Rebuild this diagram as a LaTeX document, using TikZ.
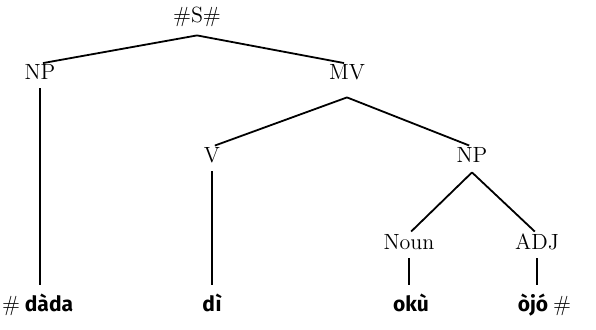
\documentclass[tikz,border=0pt]{standalone}
\usepackage{fontspec}
\setsansfont{Fira Sans}
\usepackage{tikz}

\begin{document}
\begin{tikzpicture}[x=0.5pt,y=-0.5pt,
		cat/.style={inner sep=0pt,anchor=base,text height=7.5pt,text depth=0pt,font=\fontsize{11}{13}\selectfont},
		word/.style={inner sep=0pt,anchor=base,text height=7.5pt,text depth=0pt,font=\sffamily\bfseries\fontsize{10.5}{12}\selectfont},
		branch/.style={line width=0.9pt,shorten >=1.5pt},
		stem/.style={line width=0.9pt,shorten <=4.5pt,shorten >=5.5pt}]
		\useasboundingbox (0,0) rectangle (596,329);
		% categories
		\node[cat] (S) at (197,22) {\#S\#};
		\node[cat] (NPa) at (40,79) {NP};
		\node[cat] (MV) at (347,79) {MV};
		\node[cat] (V) at (212,162) {V};
		\node[cat] (NPb) at (472,162) {NP};
		\node[cat] (Noun) at (409,249) {Noun};
		\node[cat] (ADJ) at (537,249) {ADJ};
		% words
		\node[word] (dada) at (49,311) {dàda};
		\node[cat,anchor=base east] (hashl) at ([xshift=-2pt]dada.base west) {\#};
		\node[word] (di) at (212,311) {dì};
		\node[word] (oku) at (411,311) {okù};
		\node[word] (ojo) at (533,311) {òjó};
		\node[cat,anchor=base west] (hashr) at ([xshift=2pt]ojo.base east) {\#};
		% branch points
		\coordinate (Sfork) at ([yshift=-6.5pt]S.south);
		\coordinate (MVfork) at ([yshift=-9pt]MV.south);
		\coordinate (NPfork) at ([yshift=-5pt]NPb.south);
		% branches
		\draw [branch] (Sfork) -- (NPa.north);
		\draw [branch] (Sfork) -- (MV.north);
		\draw [branch] (MVfork) -- (V.north);
		\draw [branch] (MVfork) -- (NPb.north);
		\draw [branch] (NPfork) -- (Noun.north);
		\draw [branch] (NPfork) -- (ADJ.north);
		\draw [stem] (NPa.south) -- (NPa.south |- dada.north);
		\draw [stem] (V.south) -- (di.north);
		\draw [stem] (Noun.south) -- (Noun.south |- oku.north);
		\draw [stem] (ADJ.south) -- (ADJ.south |- ojo.north);
	\end{tikzpicture}
\end{document}
